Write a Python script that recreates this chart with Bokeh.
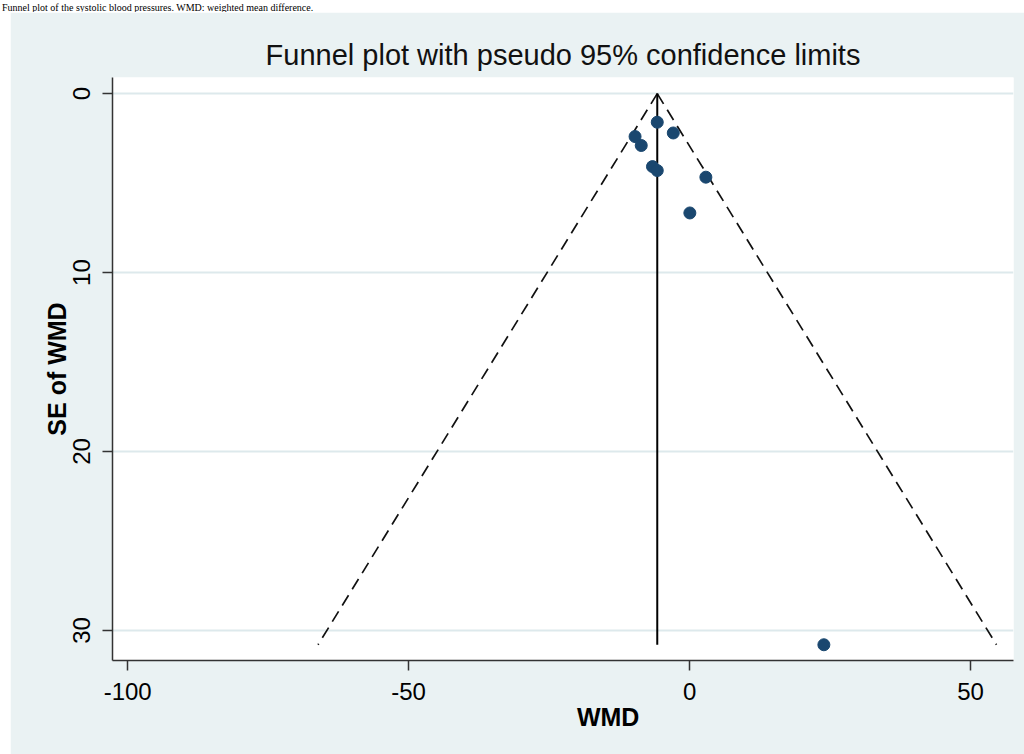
from bokeh.plotting import figure
from bokeh.models import Range1d, FixedTicker, Div
from bokeh.layouts import column
from bokeh.embed import file_html
from bokeh.resources import INLINE

# ---- data ----
wmd = [-5.75, -2.9, -9.7, -8.6, -6.6, -5.75, 2.9, 0.05, 23.9]
se_wmd = [1.6, 2.2, 2.4, 2.9, 4.08, 4.3, 4.67, 6.67, 30.8]
pooled_wmd = -5.75
funnel_se = [0.0, 30.8]
z95 = 1.96
x_ticks = [-100, -50, 0, 50]
x_tick_labels = ["-100", "-50", "0", "50"]
y_ticks = [0, 10, 20, 30]

title_text = "Funnel plot with pseudo 95% confidence limits"
x_title = "WMD"
y_title = "SE of WMD"
caption_text = "Funnel plot of the systolic blood pressures. WMD: weighted mean difference."

BG = "#eaf2f3"
NAVY = "#1a476f"
AX = "#333333"
FONT = "Liberation Sans"

p = figure(width=1014, height=742, output_backend="svg", toolbar_location=None,
           x_range=Range1d(-102.7, 57.65), y_range=Range1d(31.68, -0.9),
           min_border_left=102, min_border_right=11, min_border_top=65,
           min_border_bottom=94, margin=(0, 0, 0, 10),
           background_fill_color="white", border_fill_color=BG,
           outline_line_color=None)

p.title.text = title_text
p.title.align = "center"
p.title.text_font = FONT
p.title.text_font_size = "29px"
p.title.text_font_style = "normal"
p.title.text_color = "#111111"
p.title.standoff = 13

# axes
p.xaxis.ticker = FixedTicker(ticks=x_ticks)
p.xaxis.major_label_overrides = {t: s for t, s in zip(x_ticks, x_tick_labels)}
p.yaxis.ticker = FixedTicker(ticks=y_ticks)
for ax in (p.xaxis[0], p.yaxis[0]):
    ax.axis_line_color = AX
    ax.axis_line_width = 1.5
    ax.major_tick_line_color = AX
    ax.major_tick_line_width = 1.5
    ax.major_tick_out = 10
    ax.major_tick_in = 0
    ax.minor_tick_line_color = None
    ax.major_label_text_font = FONT
    ax.major_label_text_font_size = "24px"
    ax.major_label_text_color = "#000000"
    ax.axis_label_text_font = FONT
    ax.axis_label_text_font_size = "25px"
    ax.axis_label_text_font_style = "bold"
    ax.axis_label_text_color = "#000000"
p.xaxis.major_label_standoff = 12
p.yaxis.major_label_standoff = 12
p.yaxis.major_label_orientation = "vertical"
p.yaxis.axis_label = y_title
p.yaxis.axis_label_standoff = 0
# label sits right of the frame centre in the original
p.xaxis.axis_label = "\u00a0" * 13 + x_title
p.xaxis.axis_label_standoff = 0

p.xgrid.grid_line_color = None
p.ygrid.ticker = FixedTicker(ticks=y_ticks)
p.ygrid.grid_line_color = "#dde9ec"
p.ygrid.grid_line_width = 2

# funnel lines
lo = [pooled_wmd - z95 * s for s in funnel_se]
hi = [pooled_wmd + z95 * s for s in funnel_se]
p.line(lo, funnel_se, line_color="#111111", line_width=1.7, line_dash="12 7")
p.line(hi, funnel_se, line_color="#111111", line_width=1.7, line_dash="12 7")
p.line([pooled_wmd, pooled_wmd], funnel_se, line_color="#000000", line_width=2)

p.scatter(wmd, se_wmd, size=12, fill_color=NAVY, line_color=NAVY, marker="circle")

cap = Div(text=('<div style="position:relative; top:-1px; left:2px; white-space:nowrap; '
                'font-family:\'Liberation Serif\'; font-size:10px; line-height:11px; color:#000;">'
                + caption_text + '</div>'),
          width=1024, height=12, margin=(0, 0, 0, 0), styles={"overflow": "hidden"})

layout = column(cap, p, spacing=0)
open("out.html", "w").write(file_html(layout, INLINE))
